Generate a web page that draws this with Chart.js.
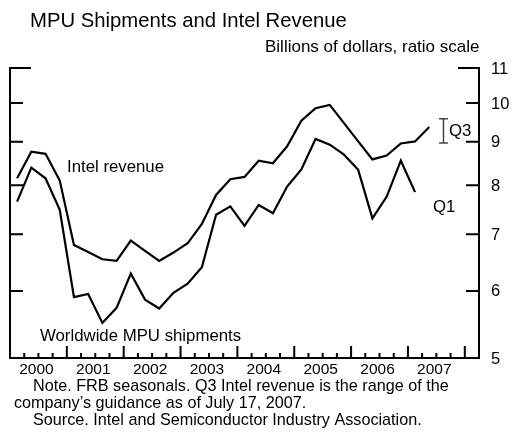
<!DOCTYPE html>
<html lang="en">
<head>
<meta charset="UTF-8">
<title>MPU Shipments and Intel Revenue</title>
<script src="https://cdn.jsdelivr.net/npm/chart.js@4.4.0/dist/chart.umd.min.js"></script>
<style>
  body { margin: 0; background: #fff; }
  #wrap { width: 513px; height: 436px; }
</style>
</head>
<body>
<div id="wrap"><canvas id="myChart" width="513" height="436"></canvas></div>
<script>
// quarterly, starting 2000 Q1, billions of dollars (seasonally adjusted)
var years = ['2000', '2001', '2002', '2003', '2004', '2005', '2006', '2007'];
var intelRevenue = [8.15, 8.76, 8.71, 8.10, 6.80, 6.67, 6.54, 6.51,
                    6.88, 6.69, 6.51, 6.66, 6.83, 7.20, 7.79, 8.13,
                    8.18, 8.55, 8.49, 8.89, 9.53, 9.86, 9.95, 9.47,
                    9.01, 8.58, 8.67, 8.96, 9.01, 9.37];
var mpuShipments = [7.65, 8.39, 8.15, 7.48, 5.90, 5.95, 5.50, 5.73,
                    6.29, 5.86, 5.72, 5.97, 6.12, 6.40, 7.38, 7.55,
                    7.16, 7.58, 7.41, 7.97, 8.35, 9.07, 8.93, 8.69,
                    8.34, 7.31, 7.75, 8.55, 7.85];
// 2007 Q3 guidance range
var q3Range = [8.97, 9.58];
var q3Index = 30;
var yTicks = [5, 6, 7, 8, 9, 10, 11];

var FONT = "'Liberation Sans', Arial, sans-serif";

function f_points(p_vals) {
    var v_pts = [];
    for (var i = 0; i < p_vals.length; i++) {
        v_pts.push({ x: i + 0.5, y: p_vals[i] });
    }
    return v_pts;
}

// frame, inward ticks, labels and notes
var framePlugin = {
    id: 'frame',
    afterDraw: function (chart) {
        var ctx = chart.ctx;
        var xs = chart.scales.x, ys = chart.scales.y;
        var L = xs.getPixelForValue(0), R = xs.getPixelForValue(33);
        var T = ys.getPixelForValue(11), B = ys.getPixelForValue(5);
        ctx.save();
        ctx.strokeStyle = '#000';
        ctx.lineWidth = 2;
        ctx.lineCap = 'butt';
        ctx.beginPath();
        ctx.moveTo(L + 21, T); ctx.lineTo(L, T); ctx.lineTo(L, B);
        ctx.lineTo(R, B); ctx.lineTo(R, T); ctx.lineTo(R - 21, T);
        ctx.stroke();

        // y ticks both sides
        ctx.beginPath();
        yTicks.forEach(function (v) {
            if (v == 5 || v == 11) return;
            var y = ys.getPixelForValue(v);
            ctx.moveTo(L, y); ctx.lineTo(L + 13, y);
            ctx.moveTo(R, y); ctx.lineTo(R - 13, y);
        });
        ctx.stroke();

        // x ticks: years major, quarters minor
        ctx.beginPath();
        for (var q = 1; q < 33; q++) {
            var x = xs.getPixelForValue(q);
            var len = (q % 4 == 0) ? 12 : 5;
            ctx.moveTo(x, B); ctx.lineTo(x, B - len);
        }
        ctx.stroke();

        ctx.fillStyle = '#000';
        ctx.font = '15.5px ' + FONT;
        ctx.textBaseline = 'middle';
        ctx.textAlign = 'center';
        years.forEach(function (yr, i) {
            ctx.fillText(yr, xs.getPixelForValue(i * 4 + 2) - 2, B + 12);
        });
        ctx.textAlign = 'left';
        ctx.font = '16.5px ' + FONT;
        yTicks.forEach(function (v) {
            ctx.fillText(String(v), R + 12, ys.getPixelForValue(v) + 1);
        });

        // Q3 caps
        var qx = xs.getPixelForValue(q3Index + 0.5);
        ctx.lineWidth = 1.5;
        ctx.strokeStyle = '#444';
        ctx.beginPath();
        q3Range.forEach(function (v) {
            var y = ys.getPixelForValue(v);
            ctx.moveTo(qx - 4.5, y); ctx.lineTo(qx + 4.5, y);
        });
        ctx.stroke();

        // series labels
        ctx.font = '16.8px ' + FONT;
        ctx.fillText('Intel revenue', 67, 167);
        ctx.fillText('Worldwide MPU shipments', 40, 336);
        ctx.fillText('Q1', 433, 207);
        ctx.fillText('Q3', 449, 131);

        // titles and notes
        ctx.font = '20.3px ' + FONT;
        ctx.fillText('MPU Shipments and Intel Revenue', 30, 21);
        ctx.font = '17px ' + FONT;
        ctx.fillText('Billions of dollars, ratio scale', 265, 47);
        ctx.font = '16.2px ' + FONT;
        ctx.fillText('Note. FRB seasonals. Q3 Intel revenue is the range of the', 33, 387);
        ctx.fillText('company\u2019s guidance as of July 17, 2007.', 14, 404);
        ctx.fillText('Source. Intel and Semiconductor Industry Association.', 33, 421);
        ctx.restore();
    }
};

const ctx = document.getElementById('myChart').getContext('2d');
const myChart = new Chart(ctx, {
    type: 'line',
    data: {
        datasets: [{
            label: 'Intel revenue',
            data: f_points(intelRevenue),
            borderColor: '#000',
            borderWidth: 2.2
        }, {
            label: 'Worldwide MPU shipments',
            data: f_points(mpuShipments),
            borderColor: '#000',
            borderWidth: 2.2
        }, {
            label: 'Q3 guidance',
            data: [{ x: q3Index + 0.5, y: q3Range[0] }, { x: q3Index + 0.5, y: q3Range[1] }],
            borderColor: '#444',
            borderWidth: 1.5
        }]
    },
    options: {
        responsive: false,
        animation: false,
        layout: { padding: { left: 10, right: 34, top: 68, bottom: 78 } },
        plugins: { legend: { display: false }, tooltip: { enabled: false } },
        elements: {
            point: { radius: 0 },
            line: { tension: 0, borderJoinStyle: 'miter', fill: false }
        },
        scales: {
            x: { type: 'linear', min: 0, max: 33, display: false },
            y: { type: 'logarithmic', min: 5, max: 11, display: false }
        }
    },
    plugins: [framePlugin]
});
</script>
</body>
</html>
